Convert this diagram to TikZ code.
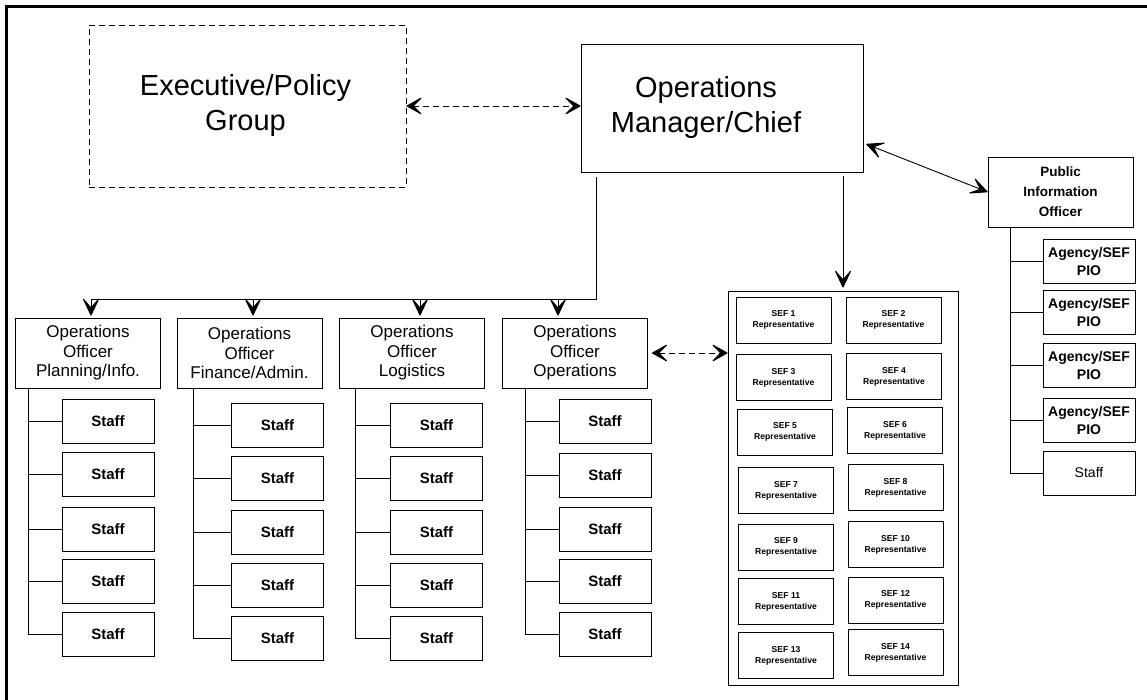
\documentclass[tikz,border=0pt]{standalone}
\usepackage{fontspec}
\setmainfont{Liberation Sans}
\usetikzlibrary{arrows.meta}

\tikzset{
  box/.style={draw, line width=0.9pt, inner sep=0pt, align=center},
  bigbox/.style={box, font=\fontsize{29}{35}\selectfont},
  officer/.style={box, minimum width=145pt, minimum height=70pt, font=\fontsize{17}{19.5}\selectfont},
  pioboss/.style={box, minimum width=145pt, minimum height=70pt, font=\bfseries\fontsize{13.5}{20}\selectfont},
  staff/.style={box, minimum width=92pt, minimum height=44pt, font=\bfseries\fontsize{15}{18}\selectfont},
  sefbox/.style={box, minimum width=95pt, minimum height=46pt, font=\bfseries\fontsize{8.6}{11}\selectfont},
  agency/.style={box, minimum width=92pt, minimum height=44pt, font=\bfseries\fontsize{14}{18}\selectfont},
  link/.style={line width=0.9pt},
  flow/.style={link, -{Stealth[length=20pt 0, width=19pt 0, inset=11pt 0, line width=1pt, round]}},
  twoway/.style={link, {Stealth[length=20pt 0, width=19pt 0, inset=11pt 0, line width=1pt, round]}-{Stealth[length=20pt 0, width=19pt 0, inset=11pt 0, line width=1pt, round]}},
  dlink/.style={link, dash pattern=on 6pt off 4pt,
    {Stealth[length=18pt 0, width=20pt 0, inset=10pt 0, line width=1pt, round]}-{Stealth[length=18pt 0, width=20pt 0, inset=10pt 0, line width=1pt, round]}},
}

\begin{document}
\begin{tikzpicture}[x=1pt, y=-1pt]
\useasboundingbox (0,0) rectangle (1147,700);

% page frame (top and left edges)
\draw[line width=3pt] (6,700) -- (6,7) -- (1147,7);

% top level
\node[bigbox, dash pattern=on 6pt off 4pt, minimum width=317pt, minimum height=162pt]
  (exec) at (247.5,106) {Executive/Policy\hspace*{4pt}\\Group\hspace*{4pt}};
\node[bigbox, minimum width=282pt, minimum height=128pt]
  (mgr) at (722,108) {Operations\hspace*{32pt}\\Manager/Chief\hspace*{32pt}};
\node[pioboss] (pio) at (1060.5,192) {Public\\Information\\Officer};

% section officers
\node[officer] (plan) at (88,353)    {Operations\\Officer\\Planning/Info.};
\node[officer] (fin)  at (249.5,353) {Operations\\Officer\\Finance/Admin.};
\node[officer] (log)  at (412,353)   {Operations\\Officer\\Logistics};
\node[officer] (ops)  at (575,353)   {Operations\\Officer\\Operations};

% staff under each officer
\foreach \c/\vx/\bx/\ys in {
    plan/28/108/{421.5,474.5,529.5,581,634.5},
    fin/193/277.5/{425,478,532.5,585,638},
    log/355/436.5/{425,478,532.5,585,638},
    ops/525/605/{421,475,529.5,581,634.5}}{
  \foreach \y [count=\i] in \ys {
    \node[staff] (\c-s\i) at (\bx,\y) {Staff};
    \draw[link] (\c-s\i.west -| \vx,0) -- (\c-s\i.west);
  }
  \draw[link] (\c.south -| \vx,0) -- (\c-s5.west -| \vx,0);
}

% SEF representatives
\node[box, minimum width=230pt, minimum height=394pt] (sefgrp) at (843,488) {};
\foreach \n/\x/\y in {1/783.5/320, 3/783.5/377.5, 5/785/432, 7/786/490.5,
    9/786/547, 11/786/601.5, 13/786/655.5,
    2/893.5/320, 4/894/376.5, 6/895/430.5, 8/895.5/487.5,
    10/895.5/544.5, 12/895.5/600, 14/895.5/652.5}
  \node[sefbox] (sef\n) at (\x,\y) {SEF \n\\Representative};

% public information staff
\foreach \y [count=\i] in {261,312,365,420} {
  \node[agency] (pio-a\i) at (1089,\y) {Agency/SEF\\PIO};
  \draw[link] (pio-a\i.west -| 1010,0) -- (pio-a\i.west);
}
\node[agency, font=\fontsize{14}{18}\selectfont] (pio-s) at (1089,473) {Staff};
\draw[link] (pio-s.west -| 1010,0) -- (pio-s.west);
\draw[link] (pio.south -| 1010,0) -- (pio-s.west -| 1010,0);

% connectors
\draw[dlink] (exec.east) -- (exec.east -| mgr.west);
\draw[twoway, shorten <=3pt] ([yshift=-35pt]mgr.east) -- (pio.west);
\draw[flow, shorten <=4pt, shorten >=3pt] (mgr.south -| sefgrp.north) -- (sefgrp.north);
\draw[dlink, shorten <=4pt] (ops.east) -- (ops.east -| sefgrp.west);

\coordinate (bus) at (91,299);
\draw[link, shorten <=5pt] ([xshift=-126pt]mgr.south) |- (bus);
\foreach \o/\x in {plan/91, fin/253, log/420, ops/558} {
  \coordinate (dp-\o) at (\x,299);
  \draw[flow, shorten >=2pt] (dp-\o) -- (dp-\o |- \o.north);
}
\end{tikzpicture}
\end{document}
